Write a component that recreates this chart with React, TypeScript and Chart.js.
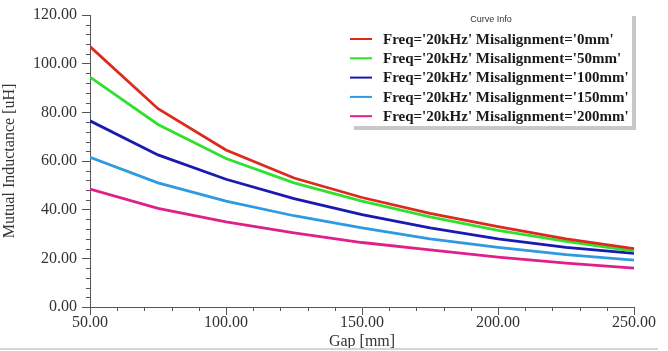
import React, { useEffect, useRef } from 'react';
import { Chart, registerables } from 'chart.js';

Chart.register(...registerables);

const gaps = [50, 75, 100, 125, 150, 175, 200, 225, 250];
const mis0 = [107, 81.5, 64.5, 53, 45, 38.5, 33, 28, 24];
const mis50 = [94.5, 75, 61, 51, 43.5, 37, 31.5, 27, 23];
const mis100 = [76.5, 62.5, 52.5, 44.5, 38, 32.5, 28, 24.5, 22];
const mis150 = [61.5, 51, 43.5, 37.5, 32.5, 28, 24.5, 21.5, 19.3];
const mis200 = [48.5, 40.5, 35, 30.5, 26.5, 23.5, 20.5, 18, 16];
const seriesLabels = [
  "Freq='20kHz' Misalignment='0mm'",
  "Freq='20kHz' Misalignment='50mm'",
  "Freq='20kHz' Misalignment='100mm'",
  "Freq='20kHz' Misalignment='150mm'",
  "Freq='20kHz' Misalignment='200mm'",
];
const seriesColors = ['#dc2a1e', '#2fe02f', '#1a1ab0', '#2f9ae0', '#e0208a'];
const legendTitle = 'Curve Info';
const xTitle = 'Gap [mm]';
const yTitle = 'Mutual Inductance [uH]';

const serif = "'Liberation Serif', 'Times New Roman', serif";

export default function App() {
  const ref = useRef<HTMLCanvasElement>(null);

  useEffect(() => {
    const allSeries = [mis0, mis50, mis100, mis150, mis200];

    const minorTicks = {
      id: 'minorTicks',
      afterDraw(chart: any) {
        const ctx = chart.ctx;
        const xs = chart.scales.x;
        const ys = chart.scales.y;
        const area = chart.chartArea;
        ctx.save();
        ctx.strokeStyle = '#555';
        ctx.lineWidth = 1;
        ctx.beginPath();
        for (let v = 60; v < 250; v += 10) {
          if (v % 50 === 0) continue;
          const px = Math.round(xs.getPixelForValue(v)) + 0.5;
          ctx.moveTo(px, area.bottom);
          ctx.lineTo(px, area.bottom + 4);
        }
        for (let v = 4; v < 120; v += 4) {
          if (v % 20 === 0) continue;
          const py = Math.round(ys.getPixelForValue(v)) + 0.5;
          ctx.moveTo(area.left - 4, py);
          ctx.lineTo(area.left, py);
        }
        ctx.stroke();
        // bottom frame line
        ctx.strokeStyle = '#d4d4d4';
        ctx.lineWidth = 2;
        ctx.beginPath();
        ctx.moveTo(0, 349);
        ctx.lineTo(658, 349);
        ctx.stroke();
        ctx.restore();
      },
    };

    const curveInfo = {
      id: 'curveInfo',
      afterDraw(chart: any) {
        const ctx = chart.ctx;
        const bx = 350, by = 12, bw = 282, bh = 114;
        ctx.save();
        ctx.fillStyle = '#c8c8c8';
        ctx.fillRect(bx + 4, by + 4, bw, bh);
        ctx.fillStyle = '#ffffff';
        ctx.fillRect(bx, by, bw, bh);
        ctx.fillStyle = '#333';
        ctx.font = "9px 'Liberation Sans', Arial, sans-serif";
        ctx.textAlign = 'center';
        ctx.textBaseline = 'middle';
        ctx.fillText(legendTitle, 491, 20);
        ctx.font = `bold 15px ${serif}`;
        ctx.textAlign = 'left';
        chart.data.datasets.forEach((ds: any, i: number) => {
          const y = 39 + i * 19.3;
          ctx.strokeStyle = ds.borderColor;
          ctx.lineWidth = 2;
          ctx.beginPath();
          ctx.moveTo(350, y);
          ctx.lineTo(372, y);
          ctx.stroke();
          ctx.fillStyle = '#1a1a1a';
          ctx.fillText(ds.label, 383, y + 1);
        });
        ctx.restore();
      },
    };

    const chart = new Chart(ref.current as HTMLCanvasElement, {
      type: 'line',
      data: {
        datasets: allSeries.map((s, i) => ({
          label: seriesLabels[i],
          data: gaps.map((g, j) => ({ x: g, y: s[j] })),
          borderColor: seriesColors[i],
          backgroundColor: seriesColors[i],
          borderWidth: 2.8,
          pointRadius: 0,
          tension: 0,
          fill: false,
        })),
      },
      options: {
        responsive: false,
        animation: false,
        layout: { padding: { left: 0, top: 15, right: 34, bottom: 0 } },
        plugins: {
          legend: { display: false },
          tooltip: { enabled: false },
        },
        scales: {
          x: {
            type: 'linear',
            min: 50,
            max: 250,
            ticks: {
              stepSize: 50,
              callback: (v: any) => Number(v).toFixed(2),
              font: { family: serif, size: 16 },
              color: '#333',
              padding: -2,
              maxRotation: 0,
              autoSkip: false,
            },
            grid: { drawOnChartArea: false, tickLength: 8, color: '#555' },
            border: { color: '#555', width: 1 },
            title: {
              display: true,
              text: xTitle,
              font: { family: serif, size: 16 },
              color: '#333',
              padding: { top: -4, bottom: 0 },
            },
            afterFit: (s: any) => {
              s.height = 44;
            },
          },
          y: {
            min: 0,
            max: 120,
            ticks: {
              stepSize: 20,
              callback: (v: any) => Number(v).toFixed(2),
              font: { family: serif, size: 16 },
              color: '#333',
              padding: 5,
            },
            grid: { drawOnChartArea: false, tickLength: 8, color: '#555' },
            border: { color: '#555', width: 1 },
            title: {
              display: true,
              text: yTitle,
              font: { family: serif, size: 16 },
              color: '#333',
              padding: { top: 0, bottom: 0 },
            },
            afterFit: (s: any) => {
              s.width = 90;
            },
          },
        },
      },
      plugins: [minorTicks, curveInfo],
    });
    return () => chart.destroy();
  }, []);

  return (
    <div style={{ position: 'absolute', left: 0, top: 0, width: 668, height: 351, background: '#fff' }}>
      <canvas ref={ref} width={668} height={351} style={{ display: 'block' }} />
    </div>
  );
}
